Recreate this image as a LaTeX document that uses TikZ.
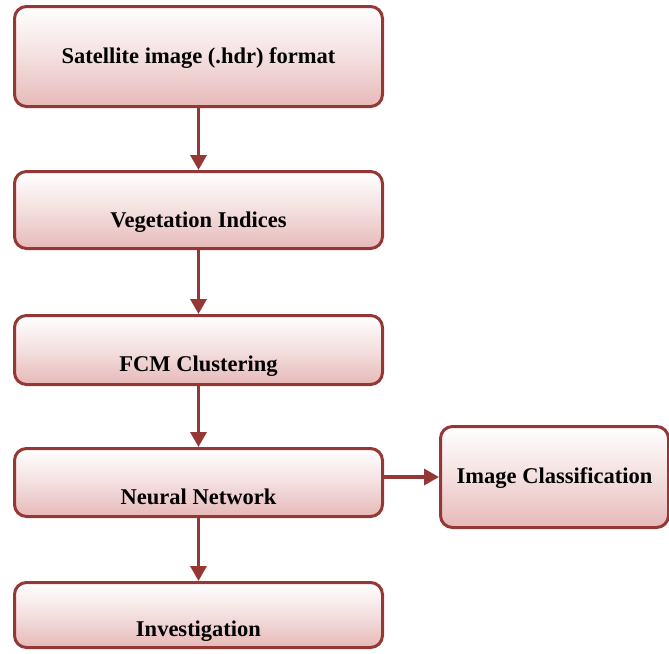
\documentclass[tikz,border=0pt]{standalone}
\usepackage{fontspec}
\setmainfont{Liberation Serif}
\usetikzlibrary{arrows.meta, positioning, calc}
\definecolor{BoxRed}{HTML}{953735}
\definecolor{BoxPink}{HTML}{E6B9B8}
\tikzset{
  stepbox/.style={draw=BoxRed, line width=3pt, rounded corners=12pt,
                  top color=white, bottom color=BoxPink, middle color=BoxPink!45,
                  minimum width=368pt, inner sep=0pt},
  steptext/.style={anchor=base, font=\fontsize{22.5}{26}\selectfont\bfseries, inner sep=0pt},
  flow/.style={draw=BoxRed, line width=3.5pt, -{Triangle[width=16pt,length=15pt]}}
}
\begin{document}
\begin{tikzpicture}[x=1pt, y=-1pt]
\useasboundingbox (0,0) rectangle (669,653);
% boxes of the chain
\node[stepbox, minimum height=100pt] (sat) at (198.5,56.5) {};
\node[stepbox, minimum height=77pt] (veg) at (198.5,210) {};
\node[stepbox, minimum height=69pt] (fcm) at (198.5,350) {};
\node[stepbox, minimum height=68pt] (nn) at (198.5,482.5) {};
\node[stepbox, minimum height=65pt] (inv) at (198.5,615) {};
\node[stepbox, minimum height=101pt, minimum width=228pt] (cls) at (554.5,477) {};
% texts
\node[steptext] (sat-t) at (198.5,63) {Satellite image (.hdr) format};
\node[steptext] (veg-t) at (198.5,227) {Vegetation Indices};
\node[steptext] (fcm-t) at (198.5,371) {FCM Clustering};
\node[steptext] (nn-t) at (198.5,504) {Neural Network};
\node[steptext] (inv-t) at (198.5,636) {Investigation};
\node[steptext] (cls-t) at (554.5,483) {Image Classification};
% arrows
\draw[flow] (sat) -- (veg);
\draw[flow] (veg) -- (fcm);
\draw[flow] (fcm) -- (nn);
\draw[flow] (nn) -- (inv);
\draw[flow] (nn.east |- cls.west) -- (cls.west);
\end{tikzpicture}
\end{document}
